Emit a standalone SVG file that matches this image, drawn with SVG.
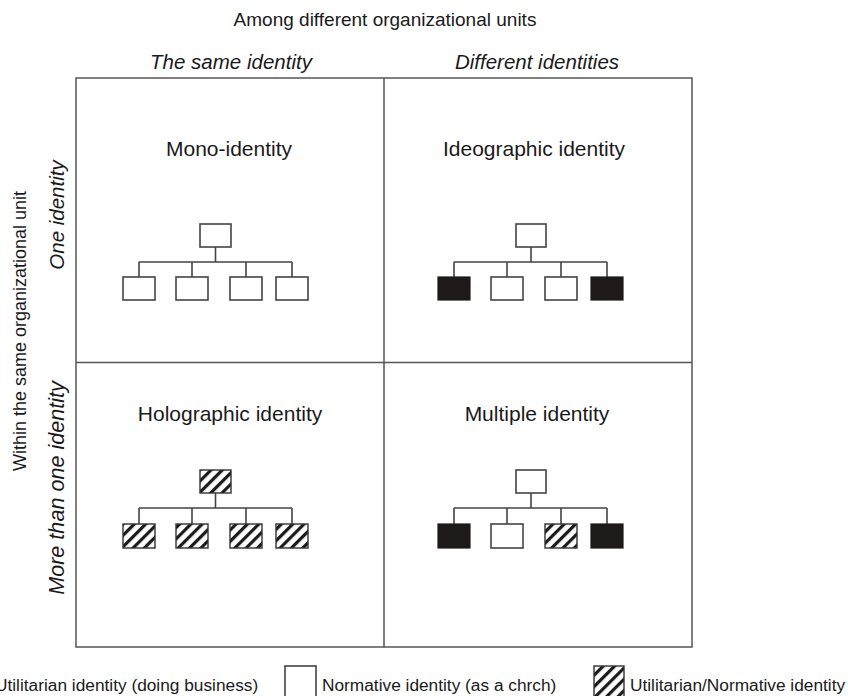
<svg xmlns="http://www.w3.org/2000/svg" width="848" height="696" viewBox="0 0 848 696">
<defs>
<pattern id="hatch" patternUnits="userSpaceOnUse" width="8" height="8" patternTransform="rotate(45)">
<rect width="8" height="8" fill="#fff"/>
<rect x="0" y="0" width="3.2" height="8" fill="#1a1a1a"/>
</pattern>
</defs>
<style>
text{font-family:"Liberation Sans",Arial,sans-serif;fill:#1a1a1a}
.h{text-anchor:middle}
.i{font-style:italic}
.s19{font-size:19px}
.s18{font-size:18px}
.s20{font-size:20.5px}
.s21{font-size:21px}
.s215{font-size:21.6px}
.frame{fill:none;stroke:#555;stroke-width:1.5}
.ln{fill:none;stroke:#444;stroke-width:1.6}
.w{fill:#fff;stroke:#444;stroke-width:1.6}
.b{fill:#1e1a1a;stroke:#1e1a1a;stroke-width:1.2}
.x{fill:url(#hatch);stroke:#333;stroke-width:1.4}
.lg{font-size:17.3px}
</style>
<rect id="bg" width="848" height="696" fill="#fff"/>
<g id="frame">
<rect class="frame" x="76" y="78" width="616" height="569"/>
<line class="frame" x1="384" y1="78" x2="384" y2="647"/>
<line class="frame" x1="76" y1="362.5" x2="692" y2="362.5" stroke="#333" stroke-width="2"/>
</g>
<g id="labels">
<text class="h s19" x="385" y="26">Among different organizational units</text>
<text class="h i s20" x="231" y="69">The same identity</text>
<text class="h i s20" x="537" y="69">Different identities</text>
<text class="h s18" transform="translate(26,331) rotate(-90)">Within the same organizational unit</text>
<text class="h i s20" transform="translate(64,215) rotate(-90)">One identity</text>
<text class="h i s215" transform="translate(64,488) rotate(-90)">More than one identity</text>
</g>
<g id="q-mono">
<text class="h s21" x="229" y="156">Mono-identity</text>
</g>
<g id="q-ideo">
<text class="h s21" x="534" y="156">Ideographic identity</text>
</g>
<g id="q-holo">
<text class="h s21" x="230" y="421">Holographic identity</text>
</g>
<g id="q-multi">
<text class="h s21" x="537" y="421">Multiple identity</text>
</g>
<g id="connectors">
<path class="ln" d="M215.5 247V262M139 262H292M139 262V277M192 262V277M246 262V277M292 262V277"/>
<path class="ln" d="M531 247V262M454 262H607M454 262V277M507 262V277M561 262V277M607 262V277"/>
<path class="ln" d="M215.5 493V508M139 508H292M139 508V524M192 508V524M246 508V524M292 508V524"/>
<path class="ln" d="M531 493V508M454 508H607M454 508V524M507 508V524M561 508V524M607 508V524"/>
</g>
<g id="mono-nodes">
<rect class="w" x="200" y="224" width="31" height="23"/>
<rect class="w" x="123" y="277" width="32" height="23"/>
<rect class="w" x="176" y="277" width="32" height="23"/>
<rect class="w" x="230" y="277" width="32" height="23"/>
<rect class="w" x="276" y="277" width="32" height="23"/>
</g>
<g id="ideo-nodes">
<rect class="w" x="516" y="224" width="30" height="23"/>
<rect class="b" x="438" y="277" width="32" height="23"/>
<rect class="w" x="491" y="277" width="32" height="23"/>
<rect class="w" x="545" y="277" width="32" height="23"/>
<rect class="b" x="591" y="277" width="32" height="23"/>
</g>
<g id="holo-nodes">
<rect class="x" x="200" y="470" width="31" height="23"/>
<rect class="x" x="123" y="524" width="32" height="24"/>
<rect class="x" x="176" y="524" width="32" height="24"/>
<rect class="x" x="230" y="524" width="32" height="24"/>
<rect class="x" x="276" y="524" width="32" height="24"/>
</g>
<g id="multi-nodes">
<rect class="w" x="516" y="470" width="30" height="23"/>
<rect class="b" x="438" y="524" width="32" height="24"/>
<rect class="w" x="491" y="524" width="32" height="24"/>
<rect class="x" x="545" y="524" width="32" height="24"/>
<rect class="b" x="591" y="524" width="32" height="24"/>
</g>
<g id="legend">
<text class="lg" x="-5" y="691">Utilitarian identity (doing business)</text>
<rect class="w" x="285" y="666" width="31" height="34" stroke="#666"/>
<text class="lg" x="322" y="691">Normative identity (as a chrch)</text>
<rect class="x" x="594" y="666" width="30" height="34"/>
<text class="lg" x="630" y="691">Utilitarian/Normative identity</text>
</g>
</svg>
